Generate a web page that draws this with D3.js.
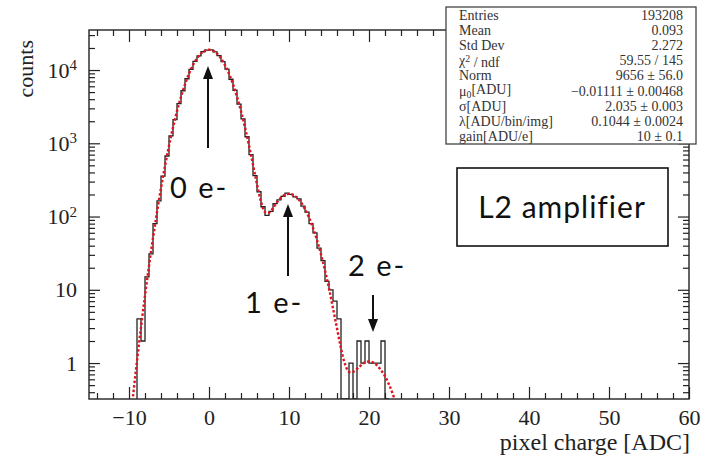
<!DOCTYPE html>
<html>
<head>
<meta charset="utf-8">
<script src="https://cdn.jsdelivr.net/npm/d3@7"></script>
<style>
body { margin: 0; background: #fff; }
</style>
</head>
<body>
<div id="chart"></div>
<script>
// histogram: 0.5 ADC bins, left edge of first bin at -9
const binStart = -9;
const binWidth = 0.5;
const counts = [4, 2, 15, 31, 80, 164, 356, 671, 1262, 2098, 3480, 5215, 7602, 10180, 13150,
  15620, 17760, 18740, 18880, 17650, 15760, 13020, 10310, 7490, 5300, 3415, 2155, 1228,
  702, 361, 218, 136, 104, 118, 150, 169, 188, 209, 201, 186, 174, 139, 115, 80, 60, 37,
  25, 13, 10, 7, 4, 0, 0, 1, 0, 2, 1, 2, 1, 1, 1, 2, 0];

// fit curve (red dotted), sampled every 0.5 ADC
const fitX = d3.range(-9.5, 23.75, 0.5);
const fitY = [0.35, 1.07, 3.08, 8.33, 21.2, 51, 115, 245, 491, 925, 1642, 2744, 4313, 6385,
  8904, 11683, 14435, 16790, 18380, 18940, 18380, 16790, 14435, 11683, 8904, 6385, 4313,
  2747, 1648, 935, 509, 276, 160, 115, 113, 130, 157, 181, 198, 204, 198, 181, 156, 126,
  97, 70, 47.7, 30.5, 18.4, 10.5, 5.6, 2.98, 1.59, 0.97, 0.76, 0.76, 0.83, 0.93, 1.02,
  1.05, 1.02, 0.93, 0.80, 0.66, 0.51, 0.37, 0.25];

const xMajor = [-10, 0, 10, 20, 30, 40, 50, 60];
const yMajor = [1, 10, 100, 1000, 10000];

const statNames = ["Entries", "Mean", "Std Dev", "χ2 / ndf", "Norm", "μ0[ADU]", "σ[ADU]",
  "λ[ADU/bin/img]", "gain[ADU/e]"];
const statValues = ["193208", "0.093", "2.272", "59.55 / 145", "9656 ± 56.0",
  "−0.01111 ± 0.00468", "2.035 ± 0.003", "0.1044 ± 0.0024", "10 ± 0.1"];

const W = 701, H = 456;
const fL = 89, fR = 689, fT = 30, fB = 399;

const svg = d3.select("#chart").append("svg")
  .attr("width", W)
  .attr("height", H)
  .style("font-family", "'Liberation Serif', 'DejaVu Serif', serif");

const x = d3.scaleLinear().domain([-15, 60]).range([fL, fR]);
const y = d3.scaleLog().domain([0.323, 35200]).range([fB, fT]);

svg.append("clipPath").attr("id", "frame")
  .append("rect")
  .attr("x", fL).attr("y", fT)
  .attr("width", fR - fL).attr("height", fB - fT);

// minor ticks
const xMinor = d3.range(-14, 61, 2).filter(d => d % 10 != 0);
const yMinor = [];
[0.1, 1, 10, 100, 1000, 10000].forEach(dec => {
  for (let k = 2; k <= 9; k++) {
    const v = dec * k;
    if (v > 0.323 && v < 35200) yMinor.push(v);
  }
});

const fmtX = d => d < 0 ? "−" + Math.abs(d) : "" + d;

function axisStyle(g) {
  g.select(".domain").remove();
  g.selectAll("line").attr("stroke", "#222").attr("stroke-width", 1.2);
  g.selectAll("text").attr("fill", "#222").style("font-family", "'Liberation Serif', serif");
}

// bottom axis
svg.append("g").attr("transform", `translate(0,${fB})`)
  .call(d3.axisBottom(x).tickValues(xMajor).tickSize(-12).tickPadding(10).tickFormat(fmtX))
  .call(axisStyle)
  .selectAll("text").attr("font-size", 22);
svg.append("g").attr("transform", `translate(0,${fB})`)
  .call(d3.axisBottom(x).tickValues(xMinor).tickSize(-6).tickFormat(""))
  .call(axisStyle);

// top axis
svg.append("g").attr("transform", `translate(0,${fT})`)
  .call(d3.axisTop(x).tickValues(xMajor).tickSize(-12).tickFormat(""))
  .call(axisStyle);
svg.append("g").attr("transform", `translate(0,${fT})`)
  .call(d3.axisTop(x).tickValues(xMinor).tickSize(-6).tickFormat(""))
  .call(axisStyle);

// left axis
const yAx = svg.append("g").attr("transform", `translate(${fL},0)`)
  .call(d3.axisLeft(y).tickValues(yMajor).tickSize(-11).tickPadding(12).tickFormat(d => d))
  .call(axisStyle);
yAx.selectAll("text").attr("font-size", 22).each(function(d) {
  const n = Math.round(Math.log10(d));
  if (n >= 2) {
    const t = d3.select(this);
    t.text("10");
    t.append("tspan").attr("dy", "-0.5em").attr("font-size", "0.68em").text(n);
  }
});
svg.append("g").attr("transform", `translate(${fL},0)`)
  .call(d3.axisLeft(y).tickValues(yMinor).tickSize(-6).tickFormat(""))
  .call(axisStyle);

// right axis
svg.append("g").attr("transform", `translate(${fR},0)`)
  .call(d3.axisRight(y).tickValues(yMajor).tickSize(-11).tickFormat(""))
  .call(axisStyle);
svg.append("g").attr("transform", `translate(${fR},0)`)
  .call(d3.axisRight(y).tickValues(yMinor).tickSize(-6).tickFormat(""))
  .call(axisStyle);

// frame
svg.append("rect")
  .attr("x", fL).attr("y", fT)
  .attr("width", fR - fL).attr("height", fB - fT)
  .attr("fill", "none").attr("stroke", "#222").attr("stroke-width", 1.4);

// histogram outline
const floorY = y.domain()[0];
const steps = [];
steps.push([binStart, floorY]);
counts.forEach((c, i) => {
  const v = Math.max(c, floorY);
  steps.push([binStart + i * binWidth, v]);
  steps.push([binStart + (i + 1) * binWidth, v]);
});
steps.push([binStart + counts.length * binWidth, floorY]);

const plot = svg.append("g").attr("clip-path", "url(#frame)");

plot.append("path")
  .datum(steps)
  .attr("fill", "none")
  .attr("stroke", "#222")
  .attr("stroke-width", 1.3)
  .attr("d", d3.line().x(d => x(d[0])).y(d => y(d[1])));

// fit
plot.append("path")
  .datum(fitX.map((v, i) => [v, fitY[i]]))
  .attr("fill", "none")
  .attr("stroke", "#e0141e")
  .attr("stroke-width", 2.4)
  .attr("stroke-dasharray", "2.5,2")
  .attr("d", d3.line().curve(d3.curveCatmullRom).x(d => x(d[0])).y(d => y(d[1])));

// axis titles
svg.append("text")
  .attr("x", fR + 1).attr("y", 450)
  .attr("text-anchor", "end")
  .attr("font-size", 24)
  .attr("fill", "#222")
  .text("pixel charge [ADC]");

svg.append("text")
  .attr("transform", "translate(33,40) rotate(-90)")
  .attr("text-anchor", "end")
  .attr("font-size", 22)
  .attr("fill", "#222")
  .text("counts");

// stats box
const box = svg.append("g");
box.append("rect")
  .attr("x", 446).attr("y", 7)
  .attr("width", 250).attr("height", 137)
  .attr("fill", "#fff").attr("stroke", "#444").attr("stroke-width", 1.3);

statNames.forEach((name, i) => {
  const ty = 19.5 + i * 15.2;
  const t = box.append("text")
    .attr("x", 459).attr("y", ty)
    .attr("font-size", 14).attr("fill", "#333");
  if (name.startsWith("χ2")) {
    t.text("χ");
    t.append("tspan").attr("dy", "-0.35em").attr("font-size", "0.7em").text("2");
    t.append("tspan").attr("dy", "0.35em").text(" / ndf");
  } else if (name.startsWith("μ0")) {
    t.text("μ");
    t.append("tspan").attr("dy", "0.25em").attr("font-size", "0.7em").text("0");
    t.append("tspan").attr("dy", "-0.25em").text("[ADU]");
  } else {
    t.text(name);
  }
  box.append("text")
    .attr("x", 683).attr("y", ty)
    .attr("text-anchor", "end")
    .attr("font-size", 14).attr("fill", "#333")
    .text(statValues[i]);
});

// annotations
const ann = svg.append("g").style("font-family", "Lato, 'Open Sans', sans-serif").attr("fill", "#111");

function arrow(x0, y0, x1, y1) {
  const dir = Math.sign(y1 - y0);
  ann.append("line")
    .attr("x1", x0).attr("y1", y0).attr("x2", x1).attr("y2", y1 - dir * 10)
    .attr("stroke", "#111").attr("stroke-width", 2);
  ann.append("path")
    .attr("d", `M${x1},${y1} L${x1 - 5},${y1 - dir * 13} L${x1 + 5},${y1 - dir * 13} Z`)
    .attr("fill", "#111");
}

arrow(x(0) - 1, 148, x(0) - 1, 66);
arrow(x(10) - 1, 276, x(10) - 1, 204);
arrow(x(20.5), 295, x(20.5), 332);

ann.append("text").attr("x", 170).attr("y", 198).attr("font-size", 29).attr("letter-spacing", 2).text("0 e-");
ann.append("text").attr("x", 245).attr("y", 313).attr("font-size", 29).attr("letter-spacing", 2).text("1 e-");
ann.append("text").attr("x", 348).attr("y", 276).attr("font-size", 29).attr("letter-spacing", 2).text("2 e-");

ann.append("rect")
  .attr("x", 457).attr("y", 168)
  .attr("width", 211).attr("height", 78)
  .attr("fill", "#fff").attr("stroke", "#111").attr("stroke-width", 1.6);
ann.append("text").attr("x", 562).attr("y", 218).attr("text-anchor", "middle")
  .attr("font-size", 30).attr("letter-spacing", 1).text("L2 amplifier");
</script>
</body>
</html>
